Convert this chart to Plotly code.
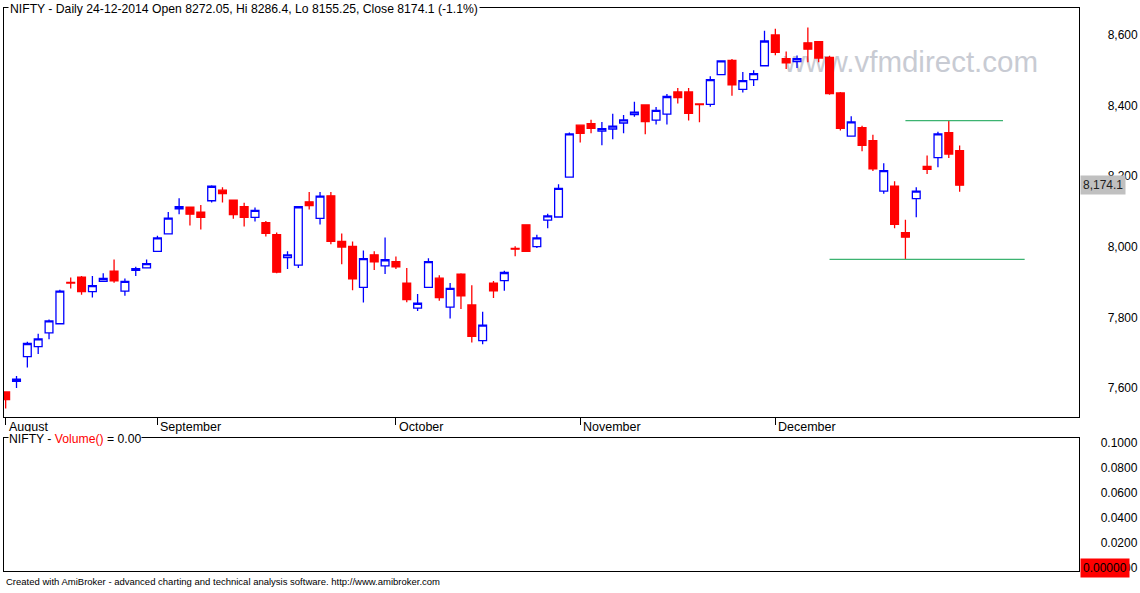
import plotly.graph_objects as go

# ---------------- data ----------------
month_labels = ["August", "September", "October", "November", "December"]
month_start_idx = [0, 14, 36, 53, 71]

opens = [7589, 7619, 7689, 7717, 7756, 7782, 7899, 7914, 7873, 7902,
         7931, 7874, 7933, 7940, 7987, 8036, 8107, 8112, 8098, 8130,
         8160, 8132, 8113, 8083, 8068, 8034, 7969, 7948, 8127, 8080,
         8144, 8015, 8001, 7885, 7977, 7946, 7958, 7897, 7826, 7885,
         7911, 7829, 7922, 7835, 7734, 7897, 7904, 7995, 8062, 8000,
         8075, 8084, 8197, 8344, 8348, 8327, 8333, 8350, 8374, 8401,
         8358, 8375, 8438, 8438, 8404, 8403, 8487, 8527, 8445, 8473,
         8512, 8599, 8532, 8524, 8577, 8580, 8536, 8435, 8313, 8337,
         8300, 8157, 8171, 8040, 8136, 8227, 8252, 8323, 8272.05]
highs = [7590, 7634, 7731, 7754, 7794, 7878, 7913, 7917, 7917, 7925,
         7964, 7910, 7943, 7964, 8031, 8098, 8137, 8113, 8118, 8174,
         8168, 8133, 8124, 8111, 8073, 8040, 7987, 8115, 8155, 8155,
         8155, 8037, 8015, 7989, 7987, 8026, 7972, 7940, 7866, 7967,
         7919, 7897, 7925, 7891, 7816, 7903, 7932, 8001, 8063, 8034,
         8093, 8177, 8323, 8345, 8359, 8353, 8376, 8373, 8410, 8402,
         8395, 8432, 8449, 8449, 8405, 8482, 8527, 8531, 8494, 8499,
         8611, 8617, 8552, 8541, 8620, 8581, 8540, 8438, 8369, 8342,
         8317, 8236, 8185, 8076, 8168, 8258, 8325, 8357, 8286.4]
lows = [7542, 7600, 7658, 7696, 7738, 7780, 7882, 7864, 7856, 7901,
        7898, 7861, 7917, 7939, 7985, 8035, 8092, 8060, 8049, 8125,
        8125, 8079, 8057, 8071, 8029, 7925, 7937, 7940, 8105, 8063,
        8007, 7950, 7877, 7842, 7934, 7923, 7937, 7843, 7818, 7884,
        7847, 7797, 7824, 7729, 7724, 7855, 7875, 7973, 7985, 7996,
        8052, 8083, 8196, 8295, 8321, 8287, 8304, 8321, 8368, 8318,
        8346, 8346, 8405, 8357, 8352, 8396, 8486, 8427, 8436, 8455,
        8511, 8542, 8503, 8506, 8522, 8522, 8430, 8329, 8312, 8270,
        8214, 8150, 8052, 7964, 8083, 8206, 8225, 8251, 8155.25]
closes = [7567, 7625, 7726, 7739, 7790, 7874, 7897, 7873, 7890, 7910,
          7903, 7902, 7938, 7952, 8025, 8081, 8113, 8092, 8083, 8171,
          8150, 8091, 8083, 8103, 8038, 7928, 7977, 8113, 8116, 8143,
          8015, 7999, 7909, 7966, 7957, 7963, 7943, 7850, 7840, 7958,
          7856, 7882, 7861, 7746, 7778, 7875, 7927, 7993, 7987, 8025,
          8087, 8165, 8319, 8321, 8335, 8334, 8341, 8359, 8381, 8354,
          8386, 8425, 8422, 8377, 8402, 8473, 8526, 8458, 8470, 8490,
          8582, 8550, 8520, 8532, 8559, 8534, 8433, 8335, 8353, 8287,
          8220, 8215, 8063, 8027, 8157, 8219, 8319, 8262, 8174.1]

support_level = 7964
support_span = [76, 94]
resistance_level = 8357
resistance_span = [83, 92]

price_ticks = [7600, 7800, 8000, 8200, 8400, 8600]
vol_ticks = [0, 0.02, 0.04, 0.06, 0.08, 0.1]
vol_ticktext = ["0.0000", "0.0200", "0.0400", "0.0600", "0.0800", "0.1000"]
volume_value = 0.0

symbol = "NIFTY"
last_date = "24-12-2014"

# ---------------- figure ----------------
W, H = 1140, 593
FONT = "Liberation Sans, Arial, sans-serif"


def px(v):
    return v / W


def py(v):
    return 1 - v / H


x_idx = list(range(len(opens)))

fig = go.Figure()
fig.add_trace(go.Candlestick(
    x=x_idx, open=opens, high=highs, low=lows, close=closes,
    xaxis="x", yaxis="y",
    increasing=dict(line=dict(color="#0000FF", width=1.3), fillcolor="#FFFFFF"),
    decreasing=dict(line=dict(color="#FF0000", width=1.3), fillcolor="#FF0000"),
    whiskerwidth=0, showlegend=False, hoverinfo="skip",
))
fig.add_trace(go.Scatter(
    x=[x_idx[-1]], y=[volume_value], xaxis="x2", yaxis="y2",
    mode="none", showlegend=False, hoverinfo="skip",
))

x_dom = [px(3.5), px(1079.3)]
x_rng = [-0.2, 99.04]

fig.update_layout(
    width=W, height=H,
    margin=dict(l=0, r=0, t=0, b=0),
    paper_bgcolor="white", plot_bgcolor="white",
    font=dict(family=FONT, size=12, color="black"),
    boxgap=0.28, boxgroupgap=0,
    showlegend=False,
    xaxis=dict(
        domain=x_dom, range=x_rng, anchor="y",
        tickmode="array", tickvals=month_start_idx,
        showticklabels=False,
        ticks="outside", ticklen=7, tickwidth=1, tickcolor="black",
        showline=True, mirror=True, linecolor="black", linewidth=1,
        showgrid=False, zeroline=False, rangeslider=dict(visible=False),
        fixedrange=True,
    ),
    yaxis=dict(
        domain=[py(419), py(6.5)],
        range=[8600 - (419 - 33) / 0.357, 8600 + (33 - 6.5) / 0.357],
        anchor="x", side="right",
        tickmode="array", tickvals=price_ticks, tickformat=",",
        ticks="outside", ticklen=25, tickcolor="rgba(0,0,0,0)",
        tickfont=dict(family=FONT, size=12, color="black"),
        showline=True, mirror=True, linecolor="black", linewidth=1,
        showgrid=False, zeroline=False, fixedrange=True,
    ),
    xaxis2=dict(
        domain=x_dom, range=x_rng, anchor="y2",
        showticklabels=False, ticks="",
        showline=True, mirror=True, linecolor="black", linewidth=1,
        showgrid=False, zeroline=False, fixedrange=True,
    ),
    yaxis2=dict(
        domain=[py(575), py(440.7)],
        range=[-0.0026, 0.104],
        anchor="x2", side="right",
        tickmode="array", tickvals=vol_ticks, ticktext=vol_ticktext,
        ticks="outside", ticklen=18, tickcolor="rgba(0,0,0,0)",
        tickfont=dict(family=FONT, size=12, color="black"),
        showline=True, mirror=True, linecolor="black", linewidth=1,
        showgrid=False, zeroline=False, fixedrange=True,
    ),
)

# month labels, just right of each month-start tick
for idx, lab in zip(month_start_idx, month_labels):
    fig.add_annotation(xref="x", yref="paper", x=idx, y=py(429.5),
                       xanchor="left", yanchor="middle", showarrow=False,
                       xshift=2, text=lab, borderpad=0,
                       font=dict(family=FONT, size=12.5, color="black"))

# support / resistance lines
line_col = "#3CB371"
fig.add_shape(type="line", xref="x", yref="y",
              x0=support_span[0], x1=support_span[1],
              y0=support_level, y1=support_level,
              line=dict(color=line_col, width=1.3))
fig.add_shape(type="line", xref="x", yref="y",
              x0=resistance_span[0], x1=resistance_span[1],
              y0=resistance_level, y1=resistance_level,
              line=dict(color=line_col, width=1.3))

# watermark behind the candles
fig.add_shape(type="rect", xref="paper", yref="paper",
              x0=px(778), x1=px(1044), y0=py(76), y1=py(39),
              line=dict(width=0), fillcolor="rgba(0,0,0,0)", layer="below",
              label=dict(text="www.vfmdirect.com", textposition="middle center",
                         font=dict(family=FONT, size=29.5, color="#C8CBD3")))

pct = (closes[-1] / closes[-2] - 1) * 100
title_text = (f"{symbol} - Daily {last_date} Open {opens[-1]}, Hi {highs[-1]}, "
              f"Lo {lows[-1]}, Close {closes[-1]} ({pct:.1f}%)")

fig.add_annotation(xref="paper", yref="paper", x=px(7.5), y=py(7.5),
                   xanchor="left", yanchor="middle", showarrow=False,
                   text=title_text, bgcolor="white", borderpad=1,
                   font=dict(family=FONT, size=12.2, color="black"))

fig.add_annotation(xref="paper", yref="paper", x=px(7.5), y=py(441.5),
                   xanchor="left", yanchor="middle", showarrow=False,
                   text=f"{symbol} - <span style='color:#FF0000'>Volume()</span> = {volume_value:.2f}",
                   bgcolor="white", borderpad=0,
                   font=dict(family=FONT, size=12.2, color="black"))

fig.add_annotation(xref="paper", yref="y", x=px(1080), y=closes[-1],
                   xanchor="left", yanchor="middle", showarrow=False,
                   text=f"{closes[-1]:,.1f}", bgcolor="#C0C0C0", borderpad=2,
                   font=dict(family=FONT, size=12, color="#202020"))

fig.add_annotation(xref="paper", yref="y2", x=px(1080), y=volume_value,
                   xanchor="left", yanchor="middle", showarrow=False,
                   text=f"{volume_value:.5f}", bgcolor="#FF0000", borderpad=2,
                   font=dict(family=FONT, size=12, color="black"))

fig.add_annotation(xref="paper", yref="paper", x=px(4), y=py(585.5),
                   xanchor="left", yanchor="middle", showarrow=False,
                   text="Created with AmiBroker - advanced charting and technical analysis software. http://www.amibroker.com",
                   font=dict(family=FONT, size=9.5, color="black"))

fig.write_html("out.html", config={"displayModeBar": False},
               post_script="document.body.style.margin='0';")
